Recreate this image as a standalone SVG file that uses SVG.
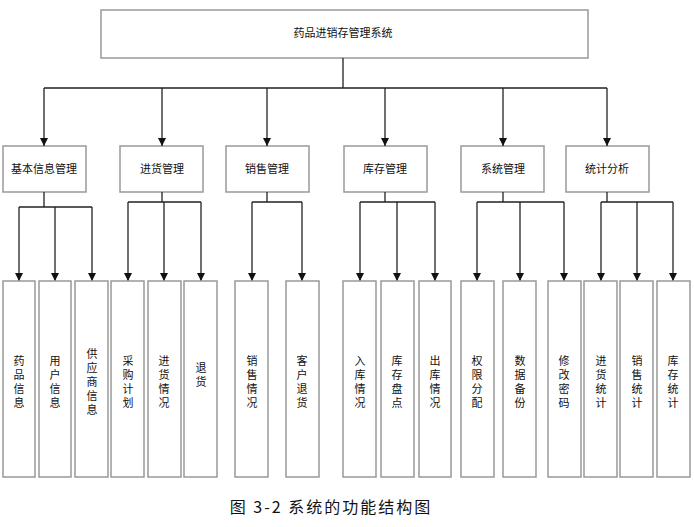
<svg xmlns="http://www.w3.org/2000/svg" width="694" height="527" viewBox="0 0 694 527">
<style>
rect{fill:#fff;stroke:#999;stroke-width:1.5}
text{font-family:"Liberation Sans","Noto Sans CJK SC",sans-serif;font-size:11px;fill:#111;text-anchor:middle}
.c path{fill:none;stroke:#222;stroke-width:1.3;marker-end:url(#a)}
.c .l{marker-end:none}
.cap{font-size:16px;letter-spacing:2px;font-family:"Noto Sans CJK SC",serif;text-anchor:middle}
</style>
<defs><marker id="a" viewBox="0 0 10 10" refX="10" refY="5" markerWidth="8" markerHeight="8" markerUnits="userSpaceOnUse" orient="auto"><path d="M0,0L10,5L0,10z" fill="#111"/></marker></defs>
<rect width="694" height="527" style="fill:#fff;stroke:none"/>
<g id="root"><rect x="101" y="10" width="487" height="48"/><text x="343" y="37">药品进销存管理系统</text></g>
<g id="m1"><rect x="3" y="146" width="83" height="46"/><text x="44" y="173">基本信息管理</text></g>
<g id="m2"><rect x="120" y="146" width="83" height="46"/><text x="162" y="173">进货管理</text></g>
<g id="m3"><rect x="226" y="146" width="83" height="46"/><text x="267" y="173">销售管理</text></g>
<g id="m4"><rect x="344" y="146" width="83" height="46"/><text x="385" y="173">库存管理</text></g>
<g id="m5"><rect x="461" y="146" width="83" height="46"/><text x="503" y="173">系统管理</text></g>
<g id="m6"><rect x="566" y="146" width="83" height="46"/><text x="607" y="173">统计分析</text></g>
<g class="c" id="connectors">
<path class="l" d="M343,58V88M44,88H607"/>
<path d="M44,88V146"/><path d="M162,88V146"/><path d="M267,88V146"/><path d="M385,88V146"/><path d="M503,88V146"/><path d="M607,88V146"/>
<path class="l" d="M44,192V207M19,207H92"/>
<path d="M19,207V281"/><path d="M55,207V281"/><path d="M92,207V281"/>
<path class="l" d="M162,192V202M128,202H201"/>
<path d="M128,202V281"/><path d="M164,202V281"/><path d="M201,202V281"/>
<path class="l" d="M267,192V202M252,202H302"/>
<path d="M252,202V281"/><path d="M302,202V281"/>
<path class="l" d="M385,192V202M360,202H435"/>
<path d="M360,202V281"/><path d="M397,202V281"/><path d="M435,202V281"/>
<path class="l" d="M503,192V202M477,202H564"/>
<path d="M477,202V281"/><path d="M520,202V281"/><path d="M564,202V281"/>
<path class="l" d="M607,192V202M601,202H673"/>
<path d="M601,202V281"/><path d="M637,202V281"/><path d="M673,202V281"/>
</g>
<g id="l1"><rect x="3" y="281" width="32" height="196"/><text x="19"><tspan x="19" y="365">药</tspan><tspan x="19" y="379">品</tspan><tspan x="19" y="393">信</tspan><tspan x="19" y="407">息</tspan></text></g>
<g id="l2"><rect x="39" y="281" width="32" height="196"/><text><tspan x="55" y="365">用</tspan><tspan x="55" y="379">户</tspan><tspan x="55" y="393">信</tspan><tspan x="55" y="407">息</tspan></text></g>
<g id="l3"><rect x="75" y="281" width="33" height="196"/><text><tspan x="92" y="358">供</tspan><tspan x="92" y="372">应</tspan><tspan x="92" y="386">商</tspan><tspan x="92" y="400">信</tspan><tspan x="92" y="414">息</tspan></text></g>
<g id="l4"><rect x="111" y="281" width="33" height="196"/><text><tspan x="128" y="365">采</tspan><tspan x="128" y="379">购</tspan><tspan x="128" y="393">计</tspan><tspan x="128" y="407">划</tspan></text></g>
<g id="l5"><rect x="148" y="281" width="33" height="196"/><text><tspan x="164" y="365">进</tspan><tspan x="164" y="379">货</tspan><tspan x="164" y="393">情</tspan><tspan x="164" y="407">况</tspan></text></g>
<g id="l6"><rect x="184" y="281" width="33" height="196"/><text><tspan x="201" y="372">退</tspan><tspan x="201" y="386">货</tspan></text></g>
<g id="l7"><rect x="235" y="281" width="33" height="196"/><text><tspan x="252" y="365">销</tspan><tspan x="252" y="379">售</tspan><tspan x="252" y="393">情</tspan><tspan x="252" y="407">况</tspan></text></g>
<g id="l8"><rect x="286" y="281" width="33" height="196"/><text><tspan x="302" y="365">客</tspan><tspan x="302" y="379">户</tspan><tspan x="302" y="393">退</tspan><tspan x="302" y="407">货</tspan></text></g>
<g id="l9"><rect x="343" y="281" width="33" height="196"/><text><tspan x="360" y="365">入</tspan><tspan x="360" y="379">库</tspan><tspan x="360" y="393">情</tspan><tspan x="360" y="407">况</tspan></text></g>
<g id="l10"><rect x="381" y="281" width="33" height="196"/><text><tspan x="397" y="365">库</tspan><tspan x="397" y="379">存</tspan><tspan x="397" y="393">盘</tspan><tspan x="397" y="407">点</tspan></text></g>
<g id="l11"><rect x="419" y="281" width="32" height="196"/><text><tspan x="435" y="365">出</tspan><tspan x="435" y="379">库</tspan><tspan x="435" y="393">情</tspan><tspan x="435" y="407">况</tspan></text></g>
<g id="l12"><rect x="461" y="281" width="33" height="196"/><text><tspan x="477" y="365">权</tspan><tspan x="477" y="379">限</tspan><tspan x="477" y="393">分</tspan><tspan x="477" y="407">配</tspan></text></g>
<g id="l13"><rect x="503" y="281" width="33" height="196"/><text><tspan x="520" y="365">数</tspan><tspan x="520" y="379">据</tspan><tspan x="520" y="393">备</tspan><tspan x="520" y="407">份</tspan></text></g>
<g id="l14"><rect x="548" y="281" width="33" height="196"/><text><tspan x="564" y="365">修</tspan><tspan x="564" y="379">改</tspan><tspan x="564" y="393">密</tspan><tspan x="564" y="407">码</tspan></text></g>
<g id="l15"><rect x="584" y="281" width="33" height="196"/><text><tspan x="601" y="365">进</tspan><tspan x="601" y="379">货</tspan><tspan x="601" y="393">统</tspan><tspan x="601" y="407">计</tspan></text></g>
<g id="l16"><rect x="620" y="281" width="33" height="196"/><text><tspan x="637" y="365">销</tspan><tspan x="637" y="379">售</tspan><tspan x="637" y="393">统</tspan><tspan x="637" y="407">计</tspan></text></g>
<g id="l17"><rect x="657" y="281" width="33" height="196"/><text><tspan x="673" y="365">库</tspan><tspan x="673" y="379">存</tspan><tspan x="673" y="393">统</tspan><tspan x="673" y="407">计</tspan></text></g>
<text class="cap" x="331" y="513">图 3-2 系统的功能结构图</text>
</svg>
